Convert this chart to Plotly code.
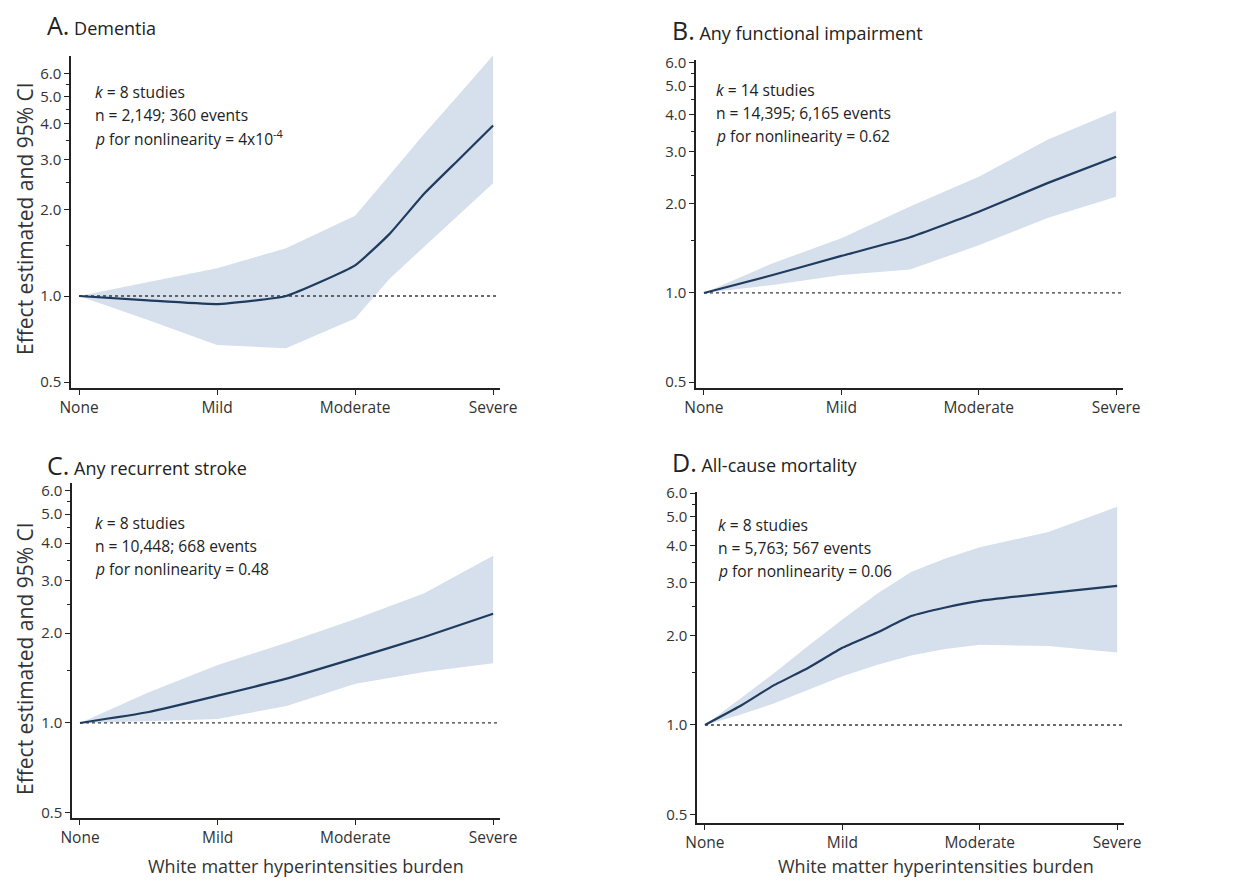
import plotly.graph_objects as go

categories = ["None", "Mild", "Moderate", "Severe"]

# Panel A: Dementia
a_x = [0, 0.5, 1.0, 1.5, 2.0, 2.25, 2.5, 2.75, 3.0]
a_mid = [1.0, 0.965, 0.937, 1.0, 1.28, 1.65, 2.28, 3.0, 3.95]
a_up = [1.0, 1.12, 1.25, 1.47, 1.91, 2.65, 3.69, 5.05, 6.95]
a_lo = [1.0, 0.824, 0.674, 0.656, 0.835, 1.15, 1.49, 1.92, 2.48]

# Panel B: Any functional impairment
b_x = [0, 0.5, 1.0, 1.5, 2.0, 2.5, 3.0]
b_mid = [1.0, 1.15, 1.334, 1.542, 1.88, 2.35, 2.886]
b_up = [1.0, 1.26, 1.53, 1.96, 2.47, 3.29, 4.12]
b_lo = [1.0, 1.064, 1.15, 1.20, 1.45, 1.79, 2.115]

# Panel C: Any recurrent stroke
c_x = [0, 0.5, 1.0, 1.5, 2.0, 2.5, 3.0]
c_mid = [1.0, 1.088, 1.234, 1.407, 1.648, 1.94, 2.32]
c_up = [1.0, 1.267, 1.564, 1.855, 2.23, 2.716, 3.63]
c_lo = [1.0, 1.013, 1.032, 1.14, 1.353, 1.48, 1.584]

# Panel D: All-cause mortality
d_x = [0, 0.25, 0.5, 0.75, 1.0, 1.25, 1.5, 1.75, 2.0, 2.5, 3.0]
d_mid = [1.0, 1.153, 1.358, 1.554, 1.816, 2.04, 2.32, 2.48, 2.61, 2.77, 2.93]
d_up = [1.0, 1.22, 1.49, 1.84, 2.26, 2.75, 3.26, 3.62, 3.95, 4.44, 5.4]
d_lo = [1.0, 1.08, 1.18, 1.31, 1.457, 1.59, 1.71, 1.80, 1.86, 1.84, 1.75]

titles = [("A.", "Dementia"), ("B.", "Any functional impairment"),
          ("C.", "Any recurrent stroke"), ("D.", "All-cause mortality")]
notes = [
    ("8", "2,149; 360 events", "4x10<sup>-4</sup>"),
    ("14", "14,395; 6,165 events", "0.62"),
    ("8", "10,448; 668 events", "0.48"),
    ("8", "5,763; 567 events", "0.06"),
]

major_ticks = [0.5, 1.0, 2.0, 3.0, 4.0, 5.0, 6.0]
major_text = ["0.5", "1.0", "2.0", "3.0", "4.0", "5.0", "6.0"]
minor_ticks = [1.5, 2.5, 3.5, 4.5, 5.5]

W, H = 1241, 880
# pixel geometry: (x_left, x_right, y_top, y_bottom)
geom = [(71, 500, 56, 388), (696, 1123, 60, 388), (72, 500, 483, 818), (697, 1124, 492, 823)]
yranges = [(-0.322, 0.840), (-0.321, 0.787), (-0.318, 0.803), (-0.329, 0.782)]
xrange = (-0.058, 3.05)
title_pos = [(45, 25), (670, 30), (45, 465), (670, 462)]
note_pos = [(93, 92), (714, 90), (93, 523), (716, 525)]

band_color = "#d6dfec"
line_color = "#1f3b5e"
font_family = "Open Sans"

data = [(a_x, a_mid, a_up, a_lo), (b_x, b_mid, b_up, b_lo),
        (c_x, c_mid, c_up, c_lo), (d_x, d_mid, d_up, d_lo)]

fig = go.Figure()
annotations = []
for i, (xs, mid, up, lo) in enumerate(data):
    n = i + 1
    xa = "x" if n == 1 else f"x{n}"
    ya = "y" if n == 1 else f"y{n}"
    fig.add_trace(go.Scatter(x=xs + xs[::-1], y=up + lo[::-1], fill="toself",
                             fillcolor=band_color, line=dict(width=0),
                             mode="lines", xaxis=xa, yaxis=ya, hoverinfo="skip",
                             showlegend=False))
    fig.add_trace(go.Scatter(x=[0, xrange[1] - 0.01], y=[1.0, 1.0], mode="lines",
                             line=dict(color="#3a3a3a", width=1.3, dash="dot"),
                             xaxis=xa, yaxis=ya, showlegend=False))
    fig.add_trace(go.Scatter(x=xs, y=mid, mode="lines",
                             line=dict(color=line_color, width=2.2, shape="spline", smoothing=0.4),
                             xaxis=xa, yaxis=ya, showlegend=False))
    xl, xr, yt, yb = geom[i]
    axkey_x = "xaxis" if n == 1 else f"xaxis{n}"
    axkey_y = "yaxis" if n == 1 else f"yaxis{n}"
    fig.update_layout(**{
        axkey_x: dict(domain=[xl / W, xr / W], range=list(xrange), anchor=ya,
                      tickvals=[0, 1, 2, 3], ticktext=categories,
                      showline=True, linecolor="#222", linewidth=1.5,
                      ticks="outside", ticklen=5, tickwidth=1.3, tickcolor="#222",
                      showgrid=False, zeroline=False, automargin=False,
                      tickfont=dict(family=font_family, size=15.5, color="#333")),
        axkey_y: dict(domain=[1 - yb / H, 1 - yt / H], type="log",
                      range=list(yranges[i]), anchor=xa,
                      tickvals=major_ticks, ticktext=major_text,
                      showline=True, linecolor="#222", linewidth=1.5,
                      ticks="outside", ticklen=5, tickwidth=1.3, tickcolor="#222",
                      minor=dict(tickvals=minor_ticks, ticks="outside", ticklen=3,
                                 tickcolor="#222", tickwidth=1),
                      showgrid=False, zeroline=False, automargin=False,
                      tickfont=dict(family=font_family, size=15, color="#333")),
    })
    tx, ty = title_pos[i]
    letter, name = titles[i]
    annotations.append(dict(x=tx / W, y=1 - ty / H, xref="paper", yref="paper",
                            xanchor="left", yanchor="middle", showarrow=False,
                            text=f"<span style='font-size:25px'>{letter}</span> {name}",
                            font=dict(family=font_family, size=18, color="#222")))
    k, nline, p = notes[i]
    nx, ny = note_pos[i]
    lines = [f"<i>k</i> = {k} studies", f"n = {nline}", f"<i>p</i> for nonlinearity = {p}"]
    for j, t in enumerate(lines):
        annotations.append(dict(x=nx / W, y=1 - (ny + 23 * j) / H, xref="paper", yref="paper",
                                xanchor="left", yanchor="middle", showarrow=False, text=t,
                                font=dict(family=font_family, size=15.6, color="#222")))

for (yc) in [219, 659]:
    annotations.append(dict(x=25 / W, y=1 - yc / H, xref="paper", yref="paper",
                            xanchor="center", yanchor="middle", showarrow=False,
                            textangle=-90, text="Effect estimated and 95% CI",
                            font=dict(family=font_family, size=21, color="#333")))
for xc in [306, 936]:
    annotations.append(dict(x=xc / W, y=1 - 866 / H, xref="paper", yref="paper",
                            xanchor="center", yanchor="middle", showarrow=False,
                            text="White matter hyperintensities burden",
                            font=dict(family=font_family, size=18, color="#333")))

fig.update_layout(width=W, height=H,
                  margin=dict(l=0, r=0, t=0, b=0, pad=0, autoexpand=False),
                  paper_bgcolor="white", plot_bgcolor="white",
                  annotations=annotations, showlegend=False)

fig.write_html("out.html", config={"displayModeBar": False},
               post_script="document.body.style.margin='0px';document.body.style.overflow='hidden';")
